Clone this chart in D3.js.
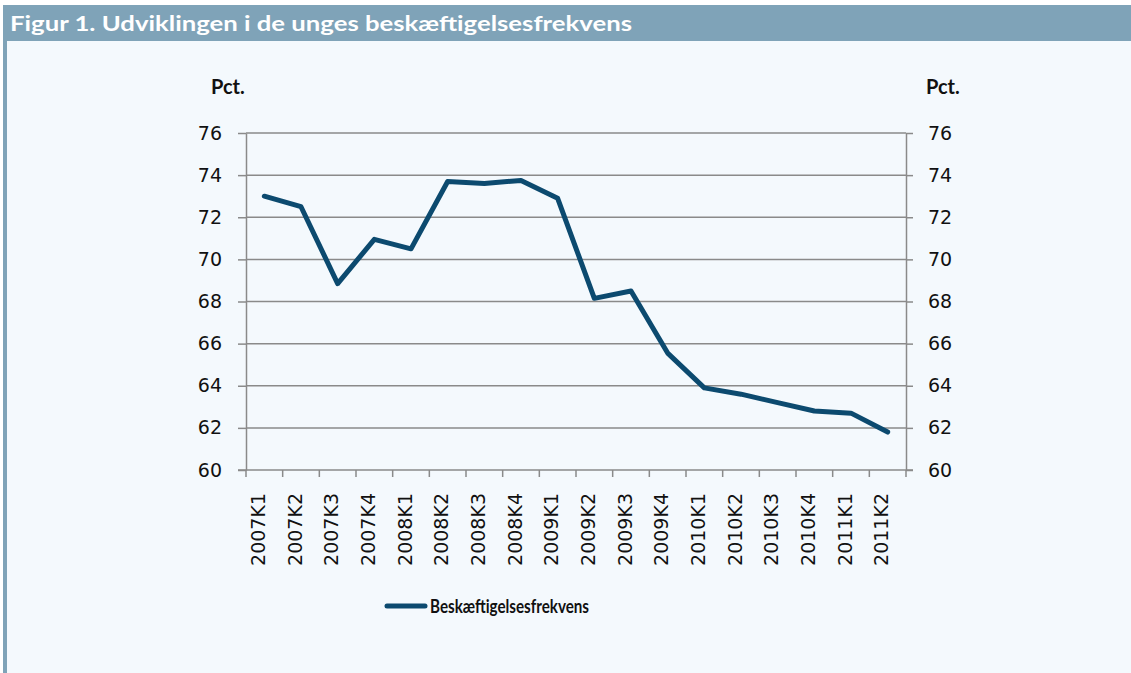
<!DOCTYPE html>
<html>
<head>
<meta charset="utf-8">
<script src="https://cdn.jsdelivr.net/npm/d3@7"></script>
<style>
  html, body { margin: 0; padding: 0; background: #fff; }
  svg { display: block; }
</style>
</head>
<body>
<div class="chart"></div>
<script>
const quarters = ['2007K1', '2007K2', '2007K3', '2007K4', '2008K1', '2008K2', '2008K3', '2008K4',
  '2009K1', '2009K2', '2009K3', '2009K4', '2010K1', '2010K2', '2010K3', '2010K4', '2011K1', '2011K2']
const employmentRate = [73.0, 72.5, 68.85, 70.95, 70.5, 73.7, 73.6, 73.75,
  72.9, 68.15, 68.5, 65.55, 63.9, 63.6, 63.2, 62.8, 62.7, 61.8]
const yTicks = [60, 62, 64, 66, 68, 70, 72, 74, 76]
const seriesName = 'Beskæftigelsesfrekvens'
const title = 'Figur 1. Udviklingen i de unges beskæftigelsesfrekvens'

const width = 1131
const height = 673
const plot = { left: 246, right: 906, top: 133, bottom: 470 }
const lineColor = '#0c4a6f'
const gridColor = '#8a8a8a'
const tickFont = '"DejaVu Sans", Verdana, sans-serif'

const svg = d3.select('.chart')
  .append('svg')
  .attr('width', width)
  .attr('height', height)

// panel background, header and left stripe
svg.append('rect').attr('x', 0).attr('y', 0).attr('width', width).attr('height', height).attr('fill', '#ffffff')
svg.append('rect').attr('x', 3).attr('y', 5).attr('width', width - 3).attr('height', height - 5).attr('fill', '#f4f9fd')
svg.append('rect').attr('x', 3).attr('y', 5).attr('width', 4).attr('height', height - 5).attr('fill', '#7fa3b8')
svg.append('rect').attr('x', 3).attr('y', 5).attr('width', width - 3).attr('height', 36).attr('fill', '#7fa3b8')

svg.append('text')
  .attr('x', 10)
  .attr('y', 31)
  .attr('fill', '#ffffff')
  .attr('textLength', 622)
  .attr('lengthAdjust', 'spacingAndGlyphs')
  .style('font-family', 'Lato, sans-serif')
  .style('font-weight', 700)
  .style('font-size', '21.5px')
  .text(title)

const x = d3.scaleBand()
  .domain(quarters)
  .range([plot.left, plot.right])

const y = d3.scaleLinear()
  .domain([60, 76])
  .range([plot.bottom, plot.top])

// gridlines
svg.append('g')
  .selectAll('line')
  .data(yTicks.slice(1))
  .enter()
  .append('line')
  .attr('x1', plot.left)
  .attr('x2', plot.right)
  .attr('y1', d => y(d))
  .attr('y2', d => y(d))
  .attr('stroke', gridColor)
  .attr('stroke-width', 1.5)

const styleAxis = (g) => {
  g.attr('font-family', null).attr('font-size', null)
  g.select('.domain').attr('stroke', gridColor).attr('stroke-width', 1.5)
  g.selectAll('.tick line').attr('stroke', gridColor).attr('stroke-width', 1.5)
  g.selectAll('.tick text')
    .attr('fill', '#111')
    .style('font-family', tickFont)
    .style('font-size', '19px')
}

const yLeft = d3.axisLeft(y).tickValues(yTicks).tickSize(8).tickPadding(16).tickSizeOuter(0)
svg.append('g')
  .attr('transform', `translate(${plot.left}, 0)`)
  .call(yLeft)
  .call(styleAxis)

const yRight = d3.axisRight(y).tickValues(yTicks).tickSize(7).tickPadding(15).tickSizeOuter(0)
svg.append('g')
  .attr('transform', `translate(${plot.right}, 0)`)
  .call(yRight)
  .call(styleAxis)

// x axis: ticks between categories
const xAxisG = svg.append('g')
xAxisG.append('line')
  .attr('x1', plot.left - 8)
  .attr('x2', plot.right + 7)
  .attr('y1', plot.bottom)
  .attr('y2', plot.bottom)
  .attr('stroke', gridColor)
  .attr('stroke-width', 1.5)
xAxisG.selectAll('.xtick')
  .data(quarters.concat(['end']))
  .enter()
  .append('line')
  .attr('class', 'xtick')
  .attr('x1', (d, i) => i < quarters.length ? x(d) : plot.right)
  .attr('x2', (d, i) => i < quarters.length ? x(d) : plot.right)
  .attr('y1', plot.bottom)
  .attr('y2', plot.bottom + 7)
  .attr('stroke', gridColor)
  .attr('stroke-width', 1.5)
xAxisG.selectAll('.xlabel')
  .data(quarters)
  .enter()
  .append('text')
  .attr('class', 'xlabel')
  .attr('transform', d => `translate(${x(d) + x.bandwidth() / 2 - 6}, ${plot.bottom + 23}) rotate(-90)`)
  .attr('text-anchor', 'end')
  .attr('dy', '0.35em')
  .attr('fill', '#111')
  .style('font-family', tickFont)
  .style('font-size', '19px')
  .text(d => d)

// unit labels
svg.selectAll('.unit')
  .data([{ x: 211 }, { x: 926 }])
  .enter()
  .append('text')
  .attr('class', 'unit')
  .attr('x', d => d.x)
  .attr('y', 94)
  .attr('fill', '#111')
  .style('font-family', 'Lato, sans-serif')
  .style('font-weight', 700)
  .style('font-size', '20px')
  .text('Pct.')

// the line
const line = d3.line()
  .x((d, i) => x(quarters[i]) + x.bandwidth() / 2)
  .y(d => y(d))

svg.append('path')
  .datum(employmentRate)
  .attr('d', line)
  .attr('fill', 'none')
  .attr('stroke', lineColor)
  .attr('stroke-width', 5)
  .attr('stroke-linejoin', 'round')
  .attr('stroke-linecap', 'round')

// legend
const legend = svg.append('g').attr('transform', 'translate(387, 606)')
legend.append('line')
  .attr('x1', 0)
  .attr('x2', 38)
  .attr('stroke', lineColor)
  .attr('stroke-width', 5)
  .attr('stroke-linecap', 'round')
legend.append('text')
  .attr('x', 43)
  .attr('y', 6.5)
  .attr('fill', '#111')
  .attr('textLength', 159)
  .attr('lengthAdjust', 'spacingAndGlyphs')
  .style('font-family', 'Lato, sans-serif')
  .style('font-weight', 700)
  .style('font-size', '18px')
  .text(seriesName)
</script>
</body>
</html>
